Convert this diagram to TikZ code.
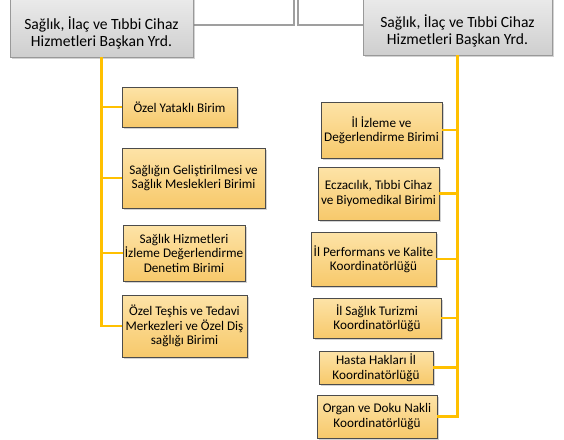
\documentclass[tikz,border=0pt]{standalone}
\usepackage{fontspec}
\setmainfont{Carlito}
\usetikzlibrary{shadows}

\definecolor{orgtop}{HTML}{FDE3A7}
\definecolor{orgbot}{HTML}{F7C96B}
\definecolor{linegold}{HTML}{FFC000}

\tikzset{
  unit/.style={draw=gray!60!black,top color=orgtop,bottom color=orgbot,
    align=center,inner sep=0.5pt,font=\fontsize{13.2}{14.5}\selectfont,
    drop shadow={shadow xshift=1.5pt,shadow yshift=-1.5pt,opacity=.35}},
  head/.style={draw=gray!80,top color=gray!12,bottom color=gray!38,
    drop shadow={shadow xshift=1.5pt,shadow yshift=-1.5pt,opacity=.35}},
  goldline/.style={linegold,line width=2.2pt},
  greyline/.style={gray!75,line width=1.3pt}
}

\begin{document}
\begin{tikzpicture}[x=1pt,y=-1pt]
  \useasboundingbox (0,0) rectangle (564,439);
  \clip (0,0) rectangle (564,439);

  \coordinate (topa) at (294,-5);
  \coordinate (topb) at (298,-5);
  \draw[greyline] (topa) |- (193,25);
  \draw[greyline] (topb) |- (363,25);

  \node[head,minimum width=183,minimum height=70] (vpl) at (101.5,22) {};
  \node[head,minimum width=189,minimum height=68] (vpr) at (457.5,21) {};
  \node[align=center,font=\fontsize{15.6}{17}\selectfont] (vplt) at (101.5,33) {Sağlık, İlaç ve Tıbbi Cihaz\\Hizmetleri Başkan Yrd.};
  \node[align=center,font=\fontsize{15.6}{17}\selectfont] (vprt) at (457.5,31) {Sağlık, İlaç ve Tıbbi Cihaz\\Hizmetleri Başkan Yrd.};

  \node[unit,minimum width=115,minimum height=40] (b1) at (179.5,107) {Özel Yataklı Birim};
  \node[unit,minimum width=143,minimum height=60] (b2) at (193.5,178) {Sağlığın Geliştirilmesi ve\\Sağlık Meslekleri Birimi};
  \node[unit,minimum width=122,minimum height=56] (b3) at (184,253) {Sağlık Hizmetleri\\İzleme Değerlendirme\\Denetim Birimi};
  \node[unit,minimum width=125,minimum height=62] (b4) at (184.5,326) {Özel Teşhis ve Tedavi\\Merkezleri ve Özel Diş\\sağlığı Birimi};

  \node[unit,minimum width=121,minimum height=56] (r1) at (381.5,130) {İl İzleme ve\\Değerlendirme Birimi};
  \node[unit,minimum width=121,minimum height=53] (r2) at (378.5,193.5) {Eczacılık, Tıbbi Cihaz\\ve Biyomedikal Birimi};
  \node[unit,minimum width=125,minimum height=54] (r3) at (373.5,259) {İl Performans ve Kalite\\Koordinatörlüğü};
  \node[unit,minimum width=128,minimum height=40] (r4) at (377,318) {İl Sağlık Turizmi\\Koordinatörlüğü};
  \node[unit,minimum width=114,minimum height=33] (r5) at (376,367.5) {Hasta Hakları İl\\Koordinatörlüğü};
  \node[unit,minimum width=120,minimum height=43] (r6) at (377,416.5) {Organ ve Doku Nakli\\Koordinatörlüğü};

  \foreach \n in {b1,b2,b3,b4}
    \draw[goldline] (vpl.south) |- (\n.west);
  \foreach \n in {r1,r2,r3,r4,r5,r6}
    \draw[goldline] (vpr.south) |- (\n.east);
\end{tikzpicture}
\end{document}
